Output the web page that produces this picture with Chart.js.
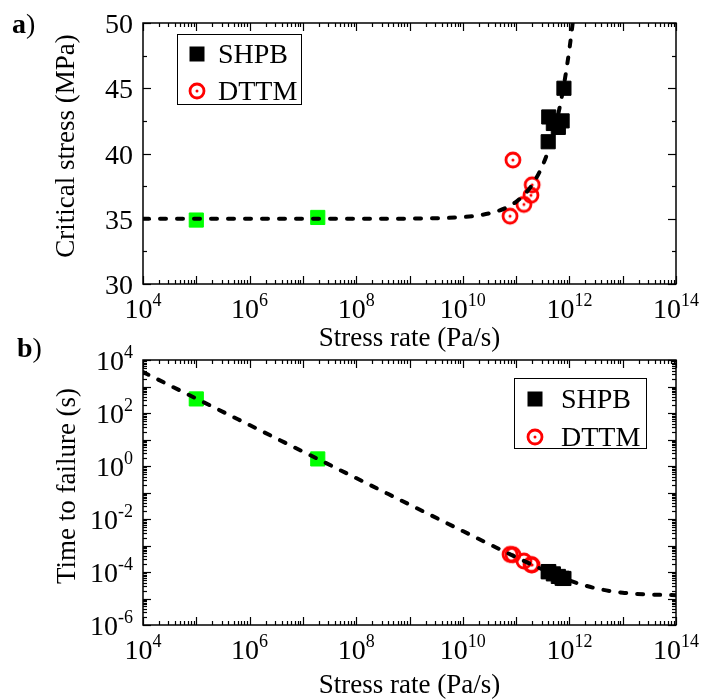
<!DOCTYPE html>
<html>
<head>
<meta charset="utf-8">
<script src="https://cdn.jsdelivr.net/npm/chart.js@4.4.1/dist/chart.umd.min.js"></script>
<style>
  html, body { margin: 0; padding: 0; background: #fff; }
  #wrap { position: relative; width: 702px; height: 700px; }
  canvas { position: absolute; left: 0; top: 0; }
</style>
</head>
<body>
<div id="wrap">
  <canvas id="chartA" width="702" height="700"></canvas>
  <canvas id="chartB" width="702" height="700"></canvas>
</div>
<script>
// --- data ---
const shpbRate = [7.9e11, 4.1e11, 7.3e11, 5.0e11, 6.2e11, 4.0e11];
const shpbStress = [45.0, 42.8, 42.5, 42.3, 42.0, 40.9];
const shpbTime = [5.7e-5, 1.04e-4, 5.8e-5, 8.5e-5, 6.8e-5, 1.02e-4];

const dttmRate = [8.7e10, 7.7e10, 1.4e11, 1.9e11, 2.0e11];
const dttmStress = [39.5, 35.2, 36.1, 36.8, 37.6];
const dttmTime = [4.5e-4, 4.6e-4, 2.6e-4, 1.9e-4, 1.85e-4];

const quasiRate = [1e5, 1.9e7];
const quasiStress = [34.9, 35.1];
const quasiTime = [340, 1.85];

const fitRateA = [1e4, 1e6, 1e8, 1e9, 3e9, 1e10, 2e10, 4e10, 7e10, 1e11, 1.5e11, 2e11, 3e11, 4e11, 5e11, 6e11, 7e11, 8e11, 9e11, 1e12, 1.1e12, 1.16e12];
const fitStressA = [35.0, 35.0, 35.0, 35.01, 35.04, 35.13, 35.26, 35.52, 35.91, 36.3, 36.95, 37.6, 38.9, 40.2, 41.5, 42.8, 44.1, 45.4, 46.7, 48.0, 49.3, 50.1];

const fitRateB = [1e4, 1e5, 1e6, 1e7, 1e8, 1e9, 1e10, 3e10, 1e11, 3e11, 1e12, 3e12, 1e13, 3e13, 1e14];
const fitTimeB = [3500, 350, 35, 3.5, 0.35, 0.035, 3.51e-3, 1.18e-3, 3.63e-4, 1.30e-4, 4.8e-5, 2.47e-5, 1.65e-5, 1.42e-5, 1.34e-5];

const xTickExps = [4, 6, 8, 10, 12, 14];
const aTickLabels = [30, 35, 40, 45, 50];
const bTickExps = [-6, -4, -2, 0, 2, 4];

const SERIF = '"Liberation Serif", "Times New Roman", serif';

function pts(xs, ys) {
  return xs.map((x, i) => ({ x: x, y: ys[i] }));
}

function ringMarker() {
  const c = document.createElement('canvas');
  c.width = 20; c.height = 20;
  const g = c.getContext('2d');
  g.strokeStyle = '#ff0000';
  g.lineWidth = 2.8;
  g.beginPath(); g.arc(10, 10, 7, 0, Math.PI * 2); g.stroke();
  g.fillStyle = '#ff0000';
  g.beginPath(); g.arc(10, 10, 1.5, 0, Math.PI * 2); g.fill();
  return c;
}
const ring = ringMarker();

function line(ctx, x1, y1, x2, y2) {
  ctx.beginPath(); ctx.moveTo(x1, y1); ctx.lineTo(x2, y2); ctx.stroke();
}

// "10" with raised exponent
function drawPow(ctx, exp, x, base, align) {
  ctx.font = '28px ' + SERIF;
  const w1 = ctx.measureText('10').width;
  ctx.font = '18px ' + SERIF;
  const w2 = ctx.measureText(String(exp)).width;
  const total = w1 + w2;
  let x0 = align === 'right' ? x - total : x - total / 2;
  ctx.textAlign = 'left';
  ctx.textBaseline = 'alphabetic';
  ctx.font = '28px ' + SERIF;
  ctx.fillText('10', x0, base);
  ctx.font = '18px ' + SERIF;
  ctx.fillText(String(exp), x0 + w1, base - 12);
}

function logTicks(lo, hi, cb) {
  for (let d = lo; d <= hi; d++) {
    for (let k = 1; k <= 9; k++) {
      if (d === hi && k > 1) break;
      cb(k * Math.pow(10, d), k === 1);
    }
  }
}

const framePlugin = {
  id: 'frame',
  afterDraw(chart, args, o) {
    const ctx = chart.ctx;
    const a = chart.chartArea;
    const xs = chart.scales.x, ys = chart.scales.y;
    ctx.save();
    ctx.fillStyle = '#000';
    ctx.strokeStyle = '#000';

    // ticks on all four sides, pointing inward
    ctx.lineWidth = 1.2;
    logTicks(4, 14, (v, major) => {
      const px = Math.round(xs.getPixelForValue(v)) + 0.5;
      const len = major ? 8 : 4;
      line(ctx, px, a.bottom, px, a.bottom - len);
      line(ctx, px, a.top, px, a.top + len);
    });
    const yTick = (v, major) => {
      const py = Math.round(ys.getPixelForValue(v)) + 0.5;
      const len = major ? 8 : 4;
      line(ctx, a.left, py, a.left + len, py);
      line(ctx, a.right, py, a.right - len, py);
    };
    if (o.logY) {
      logTicks(-6, 4, yTick);
    } else {
      for (let v = 30; v <= 50; v += 2.5) yTick(v, v % 5 === 0);
    }

    ctx.lineWidth = 1.5;
    ctx.strokeRect(a.left, a.top, a.right - a.left, a.bottom - a.top);

    // tick labels
    xTickExps.forEach(e => {
      drawPow(ctx, e, xs.getPixelForValue(Math.pow(10, e)), o.xLabelBase, 'center');
    });
    if (o.logY) {
      bTickExps.forEach(e => {
        drawPow(ctx, e, a.left - 10, ys.getPixelForValue(Math.pow(10, e)) + 10, 'right');
      });
    } else {
      ctx.font = '28px ' + SERIF;
      ctx.textAlign = 'right';
      ctx.textBaseline = 'alphabetic';
      aTickLabels.forEach(v => {
        ctx.fillText(String(v), a.left - 10, ys.getPixelForValue(v) + 10);
      });
    }

    // axis titles
    ctx.font = '27px ' + SERIF;
    ctx.textAlign = 'center';
    ctx.textBaseline = 'alphabetic';
    ctx.fillText(o.xTitle, (a.left + a.right) / 2, o.xTitleBase);
    ctx.save();
    ctx.translate(o.yTitleX, o.yTitleY);
    ctx.rotate(-Math.PI / 2);
    ctx.textBaseline = 'middle';
    ctx.fillText(o.yTitle, 0, 0);
    ctx.restore();

    // panel letter
    ctx.textAlign = 'left';
    ctx.font = 'bold 28px ' + SERIF;
    ctx.fillText(o.panel, o.panelX, o.panelY);
    const wp = ctx.measureText(o.panel).width;
    ctx.font = '28px ' + SERIF;
    ctx.fillText(')', o.panelX + wp, o.panelY);

    // legend box
    const L = o.legend;
    ctx.lineWidth = 1;
    ctx.strokeRect(L.x + 0.5, L.y + 0.5, L.w, L.h);
    ctx.fillStyle = '#000';
    ctx.fillRect(L.symX - 7.5, L.rows[0] - 7.5, 15, 15);
    ctx.drawImage(ring, L.symX - 10, L.rows[1] - 10);
    ctx.font = '28px ' + SERIF;
    ctx.textAlign = 'left';
    ctx.fillText(chart.data.datasets[1].label, L.textX, L.rows[0] + 9);
    ctx.fillText(chart.data.datasets[2].label, L.textX, L.rows[1] + 9);
    ctx.restore();
  }
};

function makeDatasets(fitX, fitY, shpbY, dttmY, quasiY) {
  return [
    {
      label: 'Fit', data: pts(fitX, fitY), showLine: true,
      borderColor: '#000', borderWidth: 4, borderDash: [6, 11], borderCapStyle: 'round',
      pointRadius: 0, cubicInterpolationMode: 'monotone', fill: false
    },
    {
      label: 'SHPB', data: pts(shpbRate, shpbY), pointStyle: 'rect', pointRadius: 10,
      backgroundColor: '#000', borderColor: '#000', borderWidth: 1
    },
    {
      label: 'DTTM', data: pts(dttmRate, dttmY), pointStyle: ring, pointRadius: 10
    },
    {
      label: 'Quasi-static', data: pts(quasiRate, quasiY), pointStyle: 'rect', pointRadius: 10,
      backgroundColor: '#00ff00', borderColor: '#00ff00', borderWidth: 1
    }
  ];
}

function hiddenScale(extra, fit) {
  return Object.assign({
    grid: { display: false },
    border: { display: false },
    ticks: { display: false },
    afterFit: fit
  }, extra);
}

new Chart(document.getElementById('chartA'), {
  type: 'scatter',
  data: { datasets: makeDatasets(fitRateA, fitStressA, shpbStress, dttmStress, quasiStress) },
  options: {
    responsive: false, animation: false,
    layout: { padding: { top: 23, right: 26, bottom: 406, left: 0 } },
    scales: {
      x: hiddenScale({ type: 'logarithmic', min: 1e4, max: 1e14 }, s => { s.height = 10; }),
      y: hiddenScale({ type: 'linear', min: 30, max: 50 }, s => { s.width = 143; })
    },
    plugins: {
      legend: { display: false }, tooltip: { enabled: false },
      frame: {
        logY: false, xLabelBase: 318, xTitle: 'Stress rate (Pa/s)', xTitleBase: 346,
        yTitle: 'Critical stress (MPa)', yTitleX: 67, yTitleY: 146,
        panel: 'a', panelX: 12, panelY: 33,
        legend: { x: 177, y: 34, w: 124, h: 70, symX: 197, textX: 218, rows: [54, 91] }
      }
    }
  },
  plugins: [framePlugin]
});

new Chart(document.getElementById('chartB'), {
  type: 'scatter',
  data: { datasets: makeDatasets(fitRateB, fitTimeB, shpbTime, dttmTime, quasiTime) },
  options: {
    responsive: false, animation: false,
    layout: { padding: { top: 360, right: 26, bottom: 65, left: 0 } },
    scales: {
      x: hiddenScale({ type: 'logarithmic', min: 1e4, max: 1e14 }, s => { s.height = 10; }),
      y: hiddenScale({ type: 'logarithmic', min: 1e-6, max: 1e4 }, s => { s.width = 143; })
    },
    plugins: {
      legend: { display: false }, tooltip: { enabled: false },
      frame: {
        logY: true, xLabelBase: 659, xTitle: 'Stress rate (Pa/s)', xTitleBase: 693,
        yTitle: 'Time to failure (s)', yTitleX: 68, yTitleY: 486,
        panel: 'b', panelX: 17, panelY: 357,
        legend: { x: 514, y: 378, w: 132, h: 70, symX: 535, textX: 561, rows: [399, 437] }
      }
    }
  },
  plugins: [framePlugin]
});
</script>
</body>
</html>
